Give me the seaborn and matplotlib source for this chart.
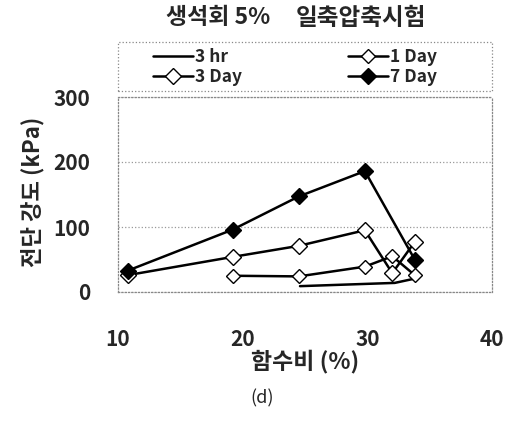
import matplotlib
matplotlib.use("Agg")
import matplotlib.pyplot as plt
from matplotlib.patches import Rectangle
import pandas as pd
import seaborn as sns

# Water content (%) vs. shear strength (kPa) for each curing time
hr3_w = [24.6, 32.2, 33.9]
hr3_s = [9, 14, 21]
day1_w = [19.2, 24.5, 29.8, 32.0, 33.8]
day1_s = [25, 24, 39, 55, 26]
day3_w = [10.8, 19.2, 24.5, 29.8, 32.0, 33.8]
day3_s = [26, 54, 71, 95, 29, 77]
day7_w = [10.8, 19.2, 24.5, 29.8, 33.8]
day7_s = [33, 96, 147, 186, 50]

x_ticks = [10, 20, 30, 40]
y_ticks = [0, 100, 200, 300]

sns.set_style("white")
plt.rcParams["font.family"] = ["Noto Sans CJK KR", "DejaVu Sans"]
plt.rcParams["font.weight"] = "bold"

W, H = 508, 421
fig = plt.figure(figsize=(W / 100, H / 100), dpi=100)
ax = fig.add_axes([118 / W, 1 - 292 / H, 374 / W, 195 / H])

series = [
    ("3 hr", hr3_w, hr3_s, dict(marker=None)),
    ("1 Day", day1_w, day1_s, dict(marker="D", markersize=7.5, markerfacecolor="white")),
    ("3 Day", day3_w, day3_s, dict(marker="D", markersize=8.0, markerfacecolor="white")),
    ("7 Day", day7_w, day7_s, dict(marker="D", markersize=8.0, markerfacecolor="black")),
]

for name, w, s, style in series:
    df = pd.DataFrame({"w": w, "s": s})
    kw = dict(color="black", linewidth=1.8, markeredgecolor="black", markeredgewidth=1.0)
    kw.update(style)
    if kw["marker"] is None:
        for k in ("marker", "markeredgecolor", "markeredgewidth"):
            kw.pop(k)
    sns.lineplot(data=df, x="w", y="s", sort=False, ax=ax, label=name, **kw)

ax.set_xlim(10, 40)
ax.set_ylim(0, 300)
ax.set_xticks(x_ticks)
ax.set_yticks(y_ticks)
ax.set_xticklabels([str(t) for t in x_ticks], fontsize=15, fontweight="bold")
ax.set_yticklabels([str(t) for t in y_ticks], fontsize=15, fontweight="bold")
ax.tick_params(axis="x", direction="in", length=5, width=0.8, color="#888888", pad=27)
ax.tick_params(axis="y", length=0, pad=20)

ax.grid(axis="y", linestyle=":", color="#999999", linewidth=0.9)
ax.grid(axis="x", visible=False)
for sp in ax.spines.values():
    sp.set_visible(True)
    sp.set_linestyle(":")
    sp.set_color("#888888")
    sp.set_linewidth(0.9)

ax.set_xlabel("함수비 (%)", fontsize=16.5, fontweight="bold")
ax.xaxis.set_label_coords(0.5, -0.295)
ax.set_ylabel("전단 강도 (kPa)", fontsize=16, fontweight="bold")
ax.yaxis.set_label_coords(-0.198, 0.513)

ax.get_legend().remove()
handles, labels = ax.get_legend_handles_labels()
order = [labels.index(n) for n in ["3 hr", "3 Day", "1 Day", "7 Day"]]
leg = fig.legend([handles[i] for i in order], [labels[i] for i in order],
                 loc="center", bbox_to_anchor=(295 / W, 1 - 67 / H),
                 ncol=2, frameon=False, handlelength=2.3, handletextpad=0.1,
                 labelspacing=0.12, columnspacing=6.1, borderpad=0.0,
                 prop={"weight": "bold", "size": 12.5})

# dotted box around the legend, spanning the plot width
fig.patches.append(Rectangle((118 / W, 1 - 91 / H), 374 / W, 49 / H,
                             transform=fig.transFigure, fill=False,
                             linestyle=":", edgecolor="#888888", linewidth=0.9))

fig.text(166 / W, 1 - 18 / H, "생석회 5%", ha="left", va="center",
         fontsize=16.5, fontweight="bold")
fig.text(296 / W, 1 - 18 / H, "일축압축시험", ha="left", va="center",
         fontsize=17, fontweight="bold")
fig.text(262 / W, 1 - 398 / H, "(d)", ha="center", va="center",
         fontsize=13, fontweight="normal")

fig.savefig("out.png", dpi=100)
